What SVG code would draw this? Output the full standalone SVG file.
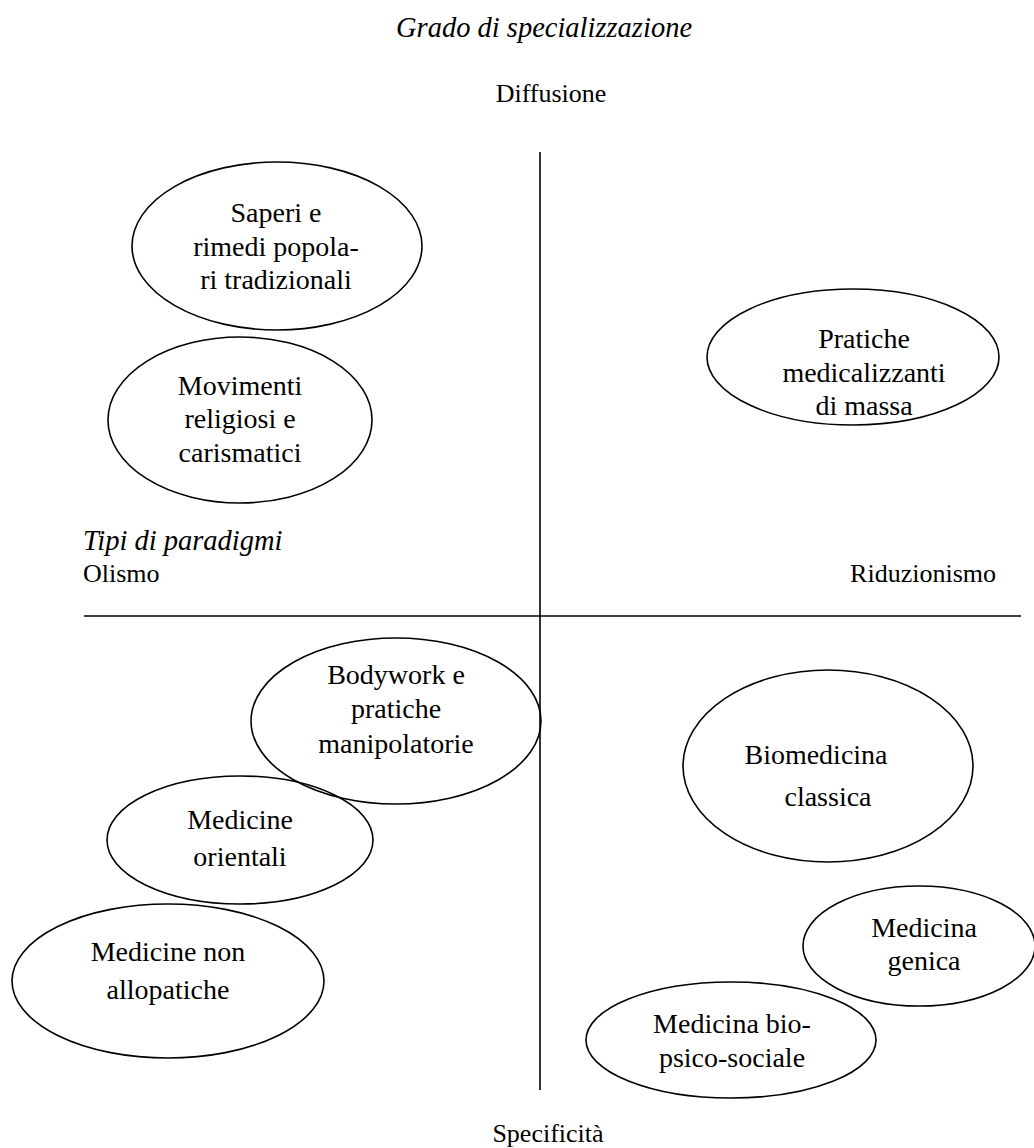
<svg xmlns="http://www.w3.org/2000/svg" width="1034" height="1148" viewBox="0 0 1034 1148" font-family="'Liberation Serif', 'Times New Roman', Times, serif">
<style>
text{font-family:'Liberation Serif','Times New Roman',Times,serif;fill:#000}
.lab{font-size:26px}
.it{font-style:italic;font-size:28.5px}
.nt{font-size:28px;text-anchor:middle}
.el{fill:none;stroke:#000;stroke-width:1.6}
.ax{stroke:#000;stroke-width:1.6}
</style>
<rect width="1034" height="1148" fill="#fff"/>
<g id="labels">
<text class="it" x="544" y="37" text-anchor="middle">Grado di specializzazione</text>
<text class="lab" x="551" y="102" text-anchor="middle">Diffusione</text>
<text class="it" x="83" y="550">Tipi di paradigmi</text>
<text class="lab" x="83" y="582">Olismo</text>
<text class="lab" x="996" y="582" text-anchor="end">Riduzionismo</text>
<text class="lab" x="548" y="1142" text-anchor="middle">Specificità</text>
</g>
<g id="connectors">
<line class="ax" x1="540" y1="152" x2="540" y2="1090"/>
<line class="ax" x1="84" y1="616" x2="1021" y2="616"/>
</g>
<g id="saperi">
<ellipse class="el" cx="277" cy="246" rx="145" ry="84"/>
<text class="nt" x="276" y="222">Saperi e</text>
<text class="nt" x="276" y="256">rimedi popola-</text>
<text class="nt" x="276" y="289">ri tradizionali</text>
</g>
<g id="movimenti">
<ellipse class="el" cx="240" cy="420" rx="132" ry="83"/>
<text class="nt" x="240" y="395">Movimenti</text>
<text class="nt" x="240" y="428">religiosi e</text>
<text class="nt" x="240" y="462">carismatici</text>
</g>
<g id="pratiche">
<ellipse class="el" cx="853" cy="357" rx="146" ry="68"/>
<text class="nt" x="864" y="348">Pratiche</text>
<text class="nt" x="864" y="382">medicalizzanti</text>
<text class="nt" x="864" y="415">di massa</text>
</g>
<g id="bodywork">
<ellipse class="el" cx="396" cy="721" rx="145" ry="83"/>
<text class="nt" x="396" y="684">Bodywork e</text>
<text class="nt" x="396" y="718">pratiche</text>
<text class="nt" x="396" y="753">manipolatorie</text>
</g>
<g id="orientali">
<ellipse class="el" cx="240" cy="840" rx="133" ry="64"/>
<text class="nt" x="240" y="829">Medicine</text>
<text class="nt" x="240" y="866">orientali</text>
</g>
<g id="nonallopatiche">
<ellipse class="el" cx="168" cy="981" rx="156" ry="77"/>
<text class="nt" x="168" y="961">Medicine non</text>
<text class="nt" x="168" y="999">allopatiche</text>
</g>
<g id="biomedicina">
<ellipse class="el" cx="828" cy="766" rx="145" ry="96"/>
<text class="nt" x="816" y="764">Biomedicina</text>
<text class="nt" x="828" y="806">classica</text>
</g>
<g id="genica">
<ellipse class="el" cx="919" cy="946" rx="116" ry="60"/>
<text class="nt" x="924" y="937">Medicina</text>
<text class="nt" x="924" y="970">genica</text>
</g>
<g id="biopsicosociale">
<ellipse class="el" cx="731" cy="1040" rx="145" ry="58"/>
<text class="nt" x="732" y="1033">Medicina bio-</text>
<text class="nt" x="732" y="1067">psico-sociale</text>
</g>
</svg>
